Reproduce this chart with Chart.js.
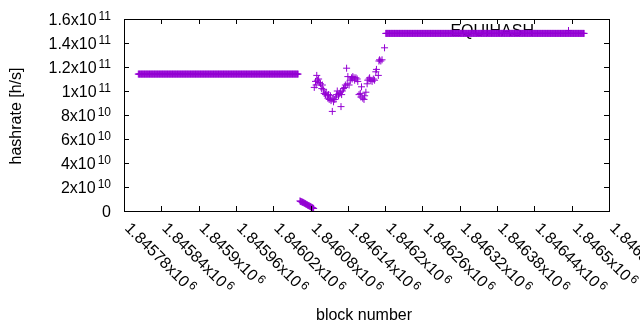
<!DOCTYPE html>
<html>
<head>
<meta charset="utf-8">
<script src="https://cdn.jsdelivr.net/npm/chart.js@4.4.1/dist/chart.umd.min.js"></script>
<style>
html, body { margin: 0; padding: 0; background: #fff; }
</style>
</head>
<body>
<canvas id="hashChart" width="640" height="330"></canvas>
<script>
const seriesLabel = 'EQUIHASH';

// axis ticks (block numbers / hashrate) and their gnuplot-style labels
const xTicks = [1845780, 1845840, 1845900, 1845960, 1846020, 1846080, 1846140,
                1846200, 1846260, 1846320, 1846380, 1846440, 1846500, 1846560];
const xTickLabels = ['1.84578x10^6', '1.84584x10^6', '1.8459x10^6', '1.84596x10^6',
                     '1.84602x10^6', '1.84608x10^6', '1.84614x10^6', '1.8462x10^6',
                     '1.84626x10^6', '1.84632x10^6', '1.84638x10^6', '1.84644x10^6',
                     '1.8465x10^6', '1.84656x10^6'];
const yTicks = [0, 2e10, 4e10, 6e10, 8e10, 1e11, 1.2e11, 1.4e11, 1.6e11];
const yTickLabels = ['0', '2x10^10', '4x10^10', '6x10^10', '8x10^10',
                     '1x10^11', '1.2x10^11', '1.4x10^11', '1.6x10^11'];

// flat stretches: one point per block, same hashrate
const flatStart = [1845803, 1846201];
const flatEnd = [1846060, 1846520];
const flatValue = [1.141e11, 1.48e11];

// the drop right after the first stretch
const dropBlocks = [1846063, 1846064, 1846065, 1846066, 1846067, 1846068, 1846069, 1846070,
                    1846071, 1846072, 1846073, 1846074, 1846075, 1846076, 1846077, 1846078,
                    1846079, 1846080, 1846081, 1846082, 1846083, 1846084, 1846085];
const dropValues = [8.4e9, 8.0e9, 7.8e9, 7.6e9, 7.3e9, 7.2e9, 6.9e9, 6.5e9,
                    6.3e9, 6.0e9, 5.6e9, 5.4e9, 5.0e9, 4.7e9, 4.5e9, 4.2e9,
                    3.9e9, 3.6e9, 3.3e9, 3.0e9, 2.7e9, 2.4e9, 2.1e9];

// noisy recovery
const scatterBlocks = [1846086, 1846088, 1846089, 1846090, 1846091, 1846093,
                       1846094, 1846096, 1846098, 1846099, 1846101,
                       1846102, 1846104, 1846105, 1846107, 1846108, 1846109,
                       1846110, 1846112, 1846113, 1846115, 1846116, 1846117,
                       1846119, 1846121, 1846122, 1846123, 1846125,
                       1846126, 1846128, 1846129, 1846130, 1846131, 1846133,
                       1846135, 1846136, 1846138, 1846139, 1846140,
                       1846142, 1846144, 1846146, 1846147, 1846148, 1846150, 1846151,
                       1846153, 1846155, 1846156, 1846158, 1846160, 1846161,
                       1846162, 1846164, 1846166, 1846167, 1846169, 1846171,
                       1846172, 1846174, 1846175, 1846177, 1846179,
                       1846181, 1846183, 1846185, 1846186, 1846189, 1846190, 1846191,
                       1846193, 1846195, 1846199];
const scatterValues = [10.3e10, 10.8e10, 10.5e10, 11.3e10, 10.9e10, 11.0e10,
                       10.7e10, 10.6e10, 10.2e10, 10.5e10, 10.1e10,
                       9.8e10, 9.7e10, 9.9e10, 9.6e10, 9.4e10, 9.7e10,
                       9.3e10, 9.6e10, 9.2e10, 8.3e10, 9.4e10, 9.1e10,
                       9.3e10, 9.5e10, 9.7e10, 10.0e10, 9.6e10,
                       9.8e10, 9.9e10, 8.7e10, 9.7e10, 10.0e10, 10.2e10,
                       10.3e10, 10.5e10, 11.9e10, 10.6e10, 11.2e10,
                       10.5e10, 10.9e10, 11.1e10, 11.0e10, 11.2e10, 11.1e10, 10.9e10,
                       11.1e10, 11.0e10, 10.8e10, 9.7e10, 9.8e10, 9.5e10,
                       10.35e10, 9.4e10, 9.3e10, 9.6e10, 9.9e10, 10.6e10,
                       10.9e10, 11.0e10, 11.1e10, 10.9e10, 10.8e10,
                       11.0e10, 10.9e10, 11.6e10, 11.8e10, 11.3e10, 12.5e10, 12.6e10,
                       12.5e10, 12.6e10, 13.6e10];

const purple = '#9400d3';
const mainFont = '16px "Liberation Sans", Arial, sans-serif';
const supFont = '12px "Liberation Sans", Arial, sans-serif';

const points = [];
for (let b = flatStart[0]; b <= flatEnd[0]; b++) points.push({ x: b, y: flatValue[0] });
dropBlocks.forEach((b, i) => points.push({ x: b, y: dropValues[i] }));
scatterBlocks.forEach((b, i) => points.push({ x: b, y: scatterValues[i] }));
for (let b = flatStart[1]; b <= flatEnd[1]; b++) points.push({ x: b, y: flatValue[1] });

// text with a gnuplot-like superscript after '^'
function drawPow(ctx, label, x, y, align) {
    const parts = label.split('^');
    ctx.font = mainFont;
    const w1 = ctx.measureText(parts[0]).width;
    let w2 = 0;
    if (parts[1]) {
        ctx.font = supFont;
        w2 = ctx.measureText(parts[1]).width + 2;
    }
    const x0 = align === 'right' ? x - w1 - w2 : x;
    ctx.textAlign = 'left';
    ctx.textBaseline = 'alphabetic';
    ctx.font = mainFont;
    ctx.fillText(parts[0], x0, y);
    if (parts[1]) {
        ctx.font = supFont;
        ctx.fillText(parts[1], x0 + w1 + 2, y - 5);
    }
}

function drawCross(ctx, x, y, r) {
    ctx.beginPath();
    ctx.moveTo(x - r, y); ctx.lineTo(x + r, y);
    ctx.moveTo(x, y - r); ctx.lineTo(x, y + r);
    ctx.stroke();
}

const gnuplotFrame = {
    id: 'gnuplotFrame',
    beforeDatasetsDraw(chart) {
        const ctx = chart.ctx;
        ctx.save();
        ctx.fillStyle = '#000';
        ctx.font = mainFont;
        ctx.textAlign = 'right';
        ctx.textBaseline = 'alphabetic';
        ctx.fillText(seriesLabel, 534, 36);
        ctx.strokeStyle = purple;
        ctx.lineWidth = 1;
        drawCross(ctx, 568.5, 30.5, 3.5);
        ctx.restore();
    },
    afterDraw(chart) {
        const ctx = chart.ctx;
        const a = chart.chartArea;
        const xs = chart.scales.x, ys = chart.scales.y;
        const tl = 5;
        ctx.save();
        ctx.strokeStyle = '#000';
        ctx.fillStyle = '#000';
        ctx.lineWidth = 1;
        ctx.strokeRect(a.left + 0.5, a.top + 0.5, a.right - a.left, a.bottom - a.top);
        ctx.beginPath();
        xTicks.forEach(v => {
            const px = Math.round(xs.getPixelForValue(v)) + 0.5;
            ctx.moveTo(px, a.bottom); ctx.lineTo(px, a.bottom - tl);
            ctx.moveTo(px, a.top); ctx.lineTo(px, a.top + tl);
        });
        yTicks.forEach(v => {
            const py = Math.round(ys.getPixelForValue(v)) + 0.5;
            ctx.moveTo(a.left, py); ctx.lineTo(a.left + tl, py);
            ctx.moveTo(a.right, py); ctx.lineTo(a.right - tl, py);
        });
        ctx.stroke();

        yTicks.forEach((v, i) => {
            drawPow(ctx, yTickLabels[i], 111, ys.getPixelForValue(v) + 5.5, 'right');
        });
        xTicks.forEach((v, i) => {
            ctx.save();
            ctx.translate(xs.getPixelForValue(v), a.bottom + 18);
            ctx.rotate(Math.PI / 4);
            drawPow(ctx, xTickLabels[i], 0, 0, 'left');
            ctx.restore();
        });

        ctx.font = mainFont;
        ctx.textAlign = 'center';
        ctx.textBaseline = 'alphabetic';
        ctx.fillText('block number', 364, 320);
        ctx.save();
        ctx.translate(21, 116);
        ctx.rotate(-Math.PI / 2);
        ctx.fillText('hashrate [h/s]', 0, 0);
        ctx.restore();
        ctx.restore();
    }
};

const ctx = document.getElementById('hashChart').getContext('2d');
new Chart(ctx, {
    type: 'scatter',
    data: {
        datasets: [{
            label: seriesLabel,
            data: points,
            pointStyle: 'cross',
            pointRadius: 3.5,
            pointHoverRadius: 3.5,
            borderColor: purple,
            backgroundColor: purple,
            borderWidth: 1,
            showLine: false
        }]
    },
    options: {
        responsive: false,
        animation: false,
        devicePixelRatio: 1,
        layout: { padding: { left: 124, right: 31, top: 19, bottom: 119 } },
        plugins: {
            legend: { display: false },
            tooltip: { enabled: false }
        },
        scales: {
            x: { type: 'linear', min: 1845780, max: 1846560, display: false },
            y: { type: 'linear', min: 0, max: 1.6e11, display: false }
        }
    },
    plugins: [gnuplotFrame]
});
</script>
</body>
</html>
